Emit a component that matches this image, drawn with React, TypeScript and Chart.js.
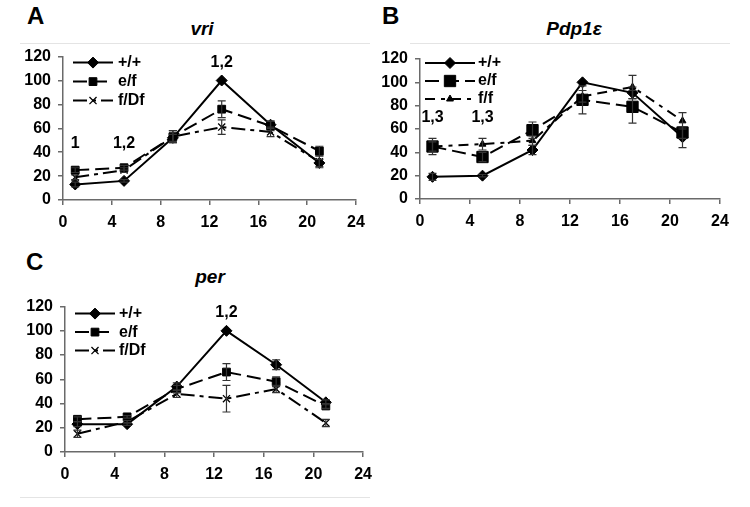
import { Chart, registerables, type ChartConfiguration, type Plugin } from 'chart.js'
import { drawPoint } from 'chart.js/helpers'
import { useEffect, useRef } from 'react'

Chart.register(...registerables)
Chart.defaults.font.family = '"Liberation Sans", Arial, sans-serif'
Chart.defaults.color = '#000'

// sampling times (h) and axis ticks
const hours = [1, 5, 9, 13, 17, 21]
const xTickValues = [0, 4, 8, 12, 16, 20, 24]
const yTickValues = [0, 20, 40, 60, 80, 100, 120]

// A: vri
const vriLabels = ['+/+', 'e/f', 'f/Df']
const vriWt = [13, 16, 52, 100, 63, 31]
const vriWtErr = [2, 1, 3, 0, 3, 3]
const vriEf = [25, 27, 53, 76, 62, 41]
const vriEfErr = [2, 2, 5, 7, 4, 4]
const vriFDf = [19, 25, 53, 61, 57, 32]
const vriFDfErr = [2, 2, 5, 6, 4, 5]
const vriMarkText = ['1', '1,2', '1,2']
const vriMarkHours = [1, 5, 13]
const vriMarkLevels = [47, 47, 115]

// B: Pdp1e
const pdpLabels = ['+/+', 'e/f', 'f/f']
const pdpWt = [19, 20, 42, 100, 91, 53]
const pdpWtErr = [3, 1, 4, 0, 5, 9]
const pdpEf = [45, 36, 59, 85, 79, 57]
const pdpEfErr = [7, 4, 7, 12, 14, 5]
const pdpFf = [45, 47, 50, 88, 96, 67]
const pdpFfErr = [4, 5, 4, 5, 10, 7]
const pdpMarkText = ['1,3', '1,3']
const pdpMarkHours = [1, 5]
const pdpMarkLevels = [70, 70]

// C: per
const perLabels = ['+/+', 'e/f', 'f/Df']
const perWt = [23, 23, 54, 100, 72, 41]
const perWtErr = [2, 1, 3, 0, 4, 2]
const perEf = [27, 29, 52, 66, 58, 38]
const perEfErr = [2, 1, 3, 7, 4, 2]
const perFDf = [15, 25, 48, 44, 52, 24]
const perFDfErr = [3, 1, 3, 11, 3, 3]
const perMarkText = ['1,2']
const perMarkHours = [13]
const perMarkLevels = [115]

const tickFont = { size: 16, weight: 'bold' as const }
const axisGray = '#6a6a6a'

const styles: Record<string, any> = {
  wt: { borderDash: [], pointStyle: 'rectRot', pointRadius: 5.5, pointBorderWidth: 1 },
  ef: { borderDash: [14, 6], pointStyle: 'rect', pointRadius: 5.5, pointBorderWidth: 1 },
  efBig: { borderDash: [14, 6], pointStyle: 'rect', pointRadius: 8, pointBorderWidth: 1 },
  fDf: { borderDash: [14, 5, 4, 5], pointStyle: 'crossRot', pointRadius: 5, pointBorderWidth: 1.3 },
  ff: { borderDash: [10, 6, 4, 6], pointStyle: 'triangle', pointRadius: 4, pointBorderWidth: 1 },
}

const errorBars: Plugin<'line'> = {
  id: 'errorBars',
  afterDatasetsDraw(chart) {
    const { ctx } = chart
    const y = chart.scales.y
    chart.data.datasets.forEach((ds: any, i) => {
      const meta = chart.getDatasetMeta(i)
      ctx.save()
      ctx.strokeStyle = '#333'
      ctx.lineWidth = 1.2
      meta.data.forEach((pt: any, j) => {
        const v = (ds.data[j] as any).y
        const e = ds.errors[j]
        if (!e) return
        const top = y.getPixelForValue(v + e)
        const bot = y.getPixelForValue(v - e)
        ctx.beginPath()
        ctx.moveTo(pt.x, top)
        ctx.lineTo(pt.x, bot)
        ctx.moveTo(pt.x - 4, top)
        ctx.lineTo(pt.x + 4, top)
        ctx.moveTo(pt.x - 4, bot)
        ctx.lineTo(pt.x + 4, bot)
        ctx.stroke()
      })
      ctx.restore()
    })
  },
}

const lineLegend: Plugin<'line'> = {
  id: 'lineLegend',
  afterDraw(chart, _args, opts: any) {
    const { ctx, chartArea } = chart
    chart.data.datasets.forEach((ds: any, i) => {
      const y = chartArea.top + opts.top + i * opts.row
      const x0 = chartArea.left + opts.left
      const x1 = x0 + opts.len
      ctx.save()
      ctx.strokeStyle = '#000'
      ctx.fillStyle = '#000'
      ctx.lineWidth = 2
      ctx.setLineDash(ds.borderDash || [])
      ctx.beginPath()
      ctx.moveTo(x0, y)
      ctx.lineTo(x1, y)
      ctx.stroke()
      ctx.setLineDash([])
      ctx.lineWidth = ds.pointBorderWidth
      drawPoint(ctx, { pointStyle: ds.pointStyle, radius: ds.pointRadius, rotation: 0, borderWidth: ds.pointBorderWidth }, (x0 + x1) / 2, y)
      ctx.font = 'bold 16px "Liberation Sans", Arial, sans-serif'
      ctx.textBaseline = 'middle'
      ctx.fillText(ds.label, x1 + opts.gap, y)
      ctx.restore()
    })
  },
}

const sigMarks: Plugin<'line'> = {
  id: 'sigMarks',
  afterDraw(chart, _args, opts: any) {
    const { ctx } = chart
    ctx.save()
    ctx.fillStyle = '#000'
    ctx.font = 'bold 16px "Liberation Sans", Arial, sans-serif'
    ctx.textAlign = 'center'
    ctx.textBaseline = 'middle'
    opts.text.forEach((t: string, i: number) => {
      ctx.fillText(t, chart.scales.x.getPixelForValue(opts.hours[i]), chart.scales.y.getPixelForValue(opts.levels[i]))
    })
    ctx.restore()
  },
}

type PanelDef = {
  box: { x: number; y: number; w: number; h: number }
  padding: { top: number; right: number; left: number; bottom: number }
  yWidth: number
  xHeight: number
  labels: string[]
  series: number[][]
  errors: number[][]
  kinds: string[]
  legend: { left: number; top: number; row: number; len: number; gap: number }
  marks: { text: string[]; hours: number[]; levels: number[] }
}

function buildConfig(p: PanelDef): ChartConfiguration<'line'> {
  return {
    type: 'line',
    data: {
      datasets: p.series.map((vals, k) => ({
        label: p.labels[k],
        data: hours.map((h, i) => ({ x: h, y: vals[i] })),
        errors: p.errors[k],
        borderColor: '#000',
        backgroundColor: '#000',
        pointBackgroundColor: '#000',
        pointBorderColor: '#000',
        borderWidth: 2,
        tension: 0,
        ...styles[p.kinds[k]],
      })) as any,
    },
    options: {
      animation: false,
      responsive: false,
      layout: { padding: p.padding },
      plugins: {
        legend: { display: false },
        tooltip: { enabled: false },
        lineLegend: p.legend,
        sigMarks: p.marks,
      } as any,
      scales: {
        x: {
          type: 'linear',
          min: 0,
          max: 24,
          afterBuildTicks: (s) => {
            s.ticks = xTickValues.map((v) => ({ value: v }))
          },
          afterFit: (s) => {
            s.height = p.xHeight
          },
          ticks: { font: tickFont, padding: 8, maxRotation: 0, autoSkip: false, color: '#000' },
          grid: { drawOnChartArea: false, tickLength: 5, color: axisGray, lineWidth: 1.5 },
          border: { color: axisGray, width: 1.5 },
        },
        y: {
          type: 'linear',
          min: 0,
          max: 120,
          afterBuildTicks: (s) => {
            s.ticks = yTickValues.map((v) => ({ value: v }))
          },
          afterFit: (s) => {
            s.width = p.yWidth
          },
          ticks: { font: tickFont, padding: 7, autoSkip: false, color: '#000' },
          grid: { drawOnChartArea: false, tickLength: 5, color: axisGray, lineWidth: 1.5 },
          border: { color: axisGray, width: 1.5 },
        },
      },
    },
    plugins: [errorBars, lineLegend, sigMarks],
  }
}

const panelA: PanelDef = {
  box: { x: 0, y: 40, w: 375, h: 200 },
  padding: { top: 16, right: 19, left: 0, bottom: 0 },
  yWidth: 63,
  xHeight: 40,
  labels: vriLabels,
  series: [vriWt, vriEf, vriFDf],
  errors: [vriWtErr, vriEfErr, vriFDfErr],
  kinds: ['wt', 'ef', 'fDf'],
  legend: { left: 10, top: 6, row: 19, len: 40, gap: 5 },
  marks: { text: vriMarkText, hours: vriMarkHours, levels: vriMarkLevels },
}

const panelB: PanelDef = {
  box: { x: 370, y: 40, w: 380, h: 200 },
  padding: { top: 19, right: 30, left: 0, bottom: 0 },
  yWidth: 50,
  xHeight: 41,
  labels: pdpLabels,
  series: [pdpWt, pdpEf, pdpFf],
  errors: [pdpWtErr, pdpEfErr, pdpFfErr],
  kinds: ['wt', 'efBig', 'ff'],
  legend: { left: 5, top: 4, row: 18, len: 50, gap: 3 },
  marks: { text: pdpMarkText, hours: pdpMarkHours, levels: pdpMarkLevels },
}

const panelC: PanelDef = {
  box: { x: 0, y: 290, w: 380, h: 200 },
  padding: { top: 15, right: 15, left: 0, bottom: 0 },
  yWidth: 65,
  xHeight: 38,
  labels: perLabels,
  series: [perWt, perEf, perFDf],
  errors: [perWtErr, perEfErr, perFDfErr],
  kinds: ['wt', 'ef', 'fDf'],
  legend: { left: 10, top: 7, row: 18.5, len: 40, gap: 4 },
  marks: { text: perMarkText, hours: perMarkHours, levels: perMarkLevels },
}

function Panel({ def }: { def: PanelDef }) {
  const canvasRef = useRef<HTMLCanvasElement | null>(null)

  useEffect(() => {
    if (!canvasRef.current) {
      return
    }
    const chart = new Chart(canvasRef.current, buildConfig(def))
    return () => {
      chart.destroy()
    }
  }, [def])

  return (
    <canvas
      ref={canvasRef}
      width={def.box.w}
      height={def.box.h}
      style={{ position: 'absolute', left: def.box.x, top: def.box.y, width: def.box.w, height: def.box.h }}
    />
  )
}

const letterStyle = {
  position: 'absolute' as const,
  fontFamily: '"Liberation Sans", Arial, sans-serif',
  fontWeight: 'bold' as const,
  fontSize: 24,
  lineHeight: '24px',
}

const titleStyle = {
  position: 'absolute' as const,
  fontFamily: '"Liberation Sans", Arial, sans-serif',
  fontWeight: 'bold' as const,
  fontStyle: 'italic' as const,
  fontSize: 19,
  lineHeight: '19px',
  transform: 'translateX(-50%)',
  whiteSpace: 'nowrap' as const,
}

const rule = { position: 'absolute' as const, height: 1, background: '#e4e4e4' }

export default function App() {
  return (
    <div style={{ position: 'absolute', left: 0, top: 0, width: 750, height: 507, background: '#fff', overflow: 'hidden' }}>
      <div style={{ ...rule, left: 20, top: 43, width: 350 }} />
      <div style={{ ...rule, left: 410, top: 43, width: 320 }} />
      <div style={{ ...rule, left: 20, top: 497, width: 350 }} />
      <div style={{ ...letterStyle, left: 27, top: 4 }}>A</div>
      <div style={{ ...letterStyle, left: 382, top: 4 }}>B</div>
      <div style={{ ...letterStyle, left: 26, top: 250 }}>C</div>
      <div style={{ ...titleStyle, left: 202, top: 19 }}>vri</div>
      <div style={{ ...titleStyle, left: 574, top: 19 }}>Pdp1ε</div>
      <div style={{ ...titleStyle, left: 210, top: 267 }}>per</div>
      <Panel def={panelA} />
      <Panel def={panelB} />
      <Panel def={panelC} />
    </div>
  )
}
